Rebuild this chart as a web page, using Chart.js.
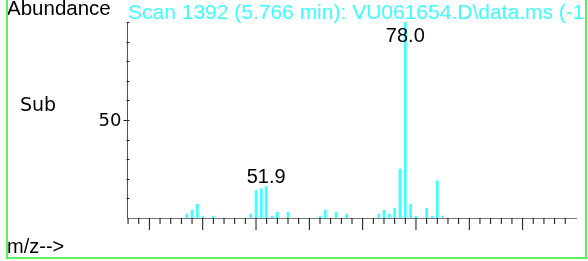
<!DOCTYPE html>
<html lang="en">
<head>
<meta charset="UTF-8">
<title>Scan 1392 (5.766 min)</title>
<script src="https://cdn.jsdelivr.net/npm/chart.js"></script>
<style>
	html, body { margin: 0; padding: 0; background: #fff; }
	canvas { display: block; }
</style>
</head>
<body>
	<canvas id="pizarra" width="588" height="261"></canvas>

	<script>
		// espectro de masas (m/z vs abundancia %)
		const masas = [37, 38, 39, 40, 42, 49, 50, 51, 51.9, 53, 54, 56, 62, 63, 65, 67, 73, 74, 75, 76, 77, 78, 79, 80, 82, 83, 84, 85]
		const abundancias = [2, 4, 7, 1, 1, 2, 14, 15, 16, 1, 3, 3, 1, 4, 3, 2, 2, 4, 2, 5, 25, 100, 7, 1, 5, 1, 19, 1]

		const picosMarcados = [78.0, 51.9]
		const etiquetasPicos = ['78.0', '51.9']

		const ticksX = [26, 28, 30, 32, 34, 36, 38, 40, 42, 44, 46, 48, 50, 52, 54, 56, 58, 60, 62, 64, 66, 68, 70, 72, 74, 76, 78, 80, 82, 84, 86, 88, 90, 92, 94, 96, 98, 100, 102, 104, 106, 108]
		const ticksXMayores = [30, 40, 50, 60, 70, 80, 90, 100]
		const ticksY = [10, 20, 30, 40, 50, 60, 70, 80, 90, 100]
		const etiquetasY = ['50']
		const valoresEtiquetasY = [50]

		const titulo = 'Scan 1392 (5.766 min): VU061654.D\\data.ms (-1'

		const CIAN = '#3cffff'
		const VERDE = '#5cf05c'

		const dibujarEjes = {
			id: 'ejes',
			afterDraw: (chart) => {
				const ctx = chart.ctx
				const area = chart.chartArea
				const x = chart.scales.x
				const y = chart.scales.y
				const y0 = y.getPixelForValue(0)
				const xIzq = Math.round(area.left) + 0.5

				ctx.save()

				// eje y
				ctx.strokeStyle = '#555'
				ctx.lineWidth = 1
				ctx.beginPath()
				ctx.moveTo(xIzq, area.top)
				ctx.lineTo(xIzq, y0)
				ctx.stroke()

				ctx.strokeStyle = '#222'
				ticksY.forEach((v) => {
					const py = Math.round(y.getPixelForValue(v)) + 0.5
					const largo = valoresEtiquetasY.includes(v) ? 4 : 1
					ctx.beginPath()
					ctx.moveTo(xIzq - largo, py)
					ctx.lineTo(xIzq + 2, py)
					ctx.stroke()
				})

				ctx.fillStyle = '#000'
				ctx.font = '18px "DejaVu Sans"'
				ctx.textAlign = 'right'
				ctx.textBaseline = 'middle'
				etiquetasY.forEach((t, i) => {
					ctx.fillText(t, xIzq - 6, y.getPixelForValue(valoresEtiquetasY[i]) + 1)
				})

				// eje x
				ctx.strokeStyle = '#777'
				ctx.beginPath()
				ctx.moveTo(area.left, Math.round(y0) + 0.5)
				ctx.lineTo(area.right, Math.round(y0) + 0.5)
				ctx.stroke()

				ctx.strokeStyle = '#111'
				ticksX.forEach((v) => {
					const px = x.getPixelForValue(v)
					const largo = ticksXMayores.includes(v) ? 12 : 6
					ctx.beginPath()
					ctx.moveTo(px, Math.round(y0))
					ctx.lineTo(px, Math.round(y0) + largo)
					ctx.stroke()
				})

				// etiquetas de picos
				ctx.font = '20px "Liberation Sans"'
				ctx.textAlign = 'center'
				ctx.textBaseline = 'alphabetic'
				picosMarcados.forEach((m, i) => {
					const idx = masas.indexOf(m)
					const tope = y.getPixelForValue(abundancias[idx])
					ctx.fillText(etiquetasPicos[i], x.getPixelForValue(m), Math.max(tope - 4, area.top + 20))
				})

				// textos
				ctx.textAlign = 'left'
				ctx.font = '20.5px "Liberation Sans"'
				ctx.fillText('Abundance', 7, 15)
				ctx.font = '20px "Liberation Sans"'
				ctx.fillText('m/z-->', 7, 253)
				ctx.font = '19px "DejaVu Sans"'
				ctx.fillText('Sub', 20, 111)

				ctx.save()
				ctx.beginPath()
				ctx.rect(0, 0, 585, 40)
				ctx.clip()
				ctx.fillStyle = CIAN
				ctx.font = '21px "Liberation Sans"'
				ctx.fillText(titulo, 128, 19)
				ctx.restore()

				// marco verde
				ctx.strokeStyle = VERDE
				ctx.lineWidth = 2
				ctx.beginPath()
				ctx.moveTo(7, 0)
				ctx.lineTo(7, 258)
				ctx.lineTo(586, 258)
				ctx.lineTo(586, 0)
				ctx.stroke()

				ctx.restore()
			}
		}

		const g = document.getElementById('pizarra')

		const myChart = new Chart(g, {
			type: 'bar',
			data: {
				datasets: [{
					label: 'Abundancia',
					data: masas.map((m, i) => ({ x: m, y: abundancias[i] })),
					backgroundColor: CIAN,
					barThickness: 2,
					borderWidth: 0
				}]
			},
			options: {
				responsive: false,
				animation: false,
				layout: { padding: { left: 127, right: 11, top: 22, bottom: 43 } },
				plugins: { legend: { display: false }, tooltip: { enabled: false } },
				scales: {
					x: { type: 'linear', min: 25.8, max: 110.2, offset: false, display: false },
					y: { min: 0, max: 100, display: false }
				}
			},
			plugins: [dibujarEjes]
		})
	</script>
</body>
</html>
